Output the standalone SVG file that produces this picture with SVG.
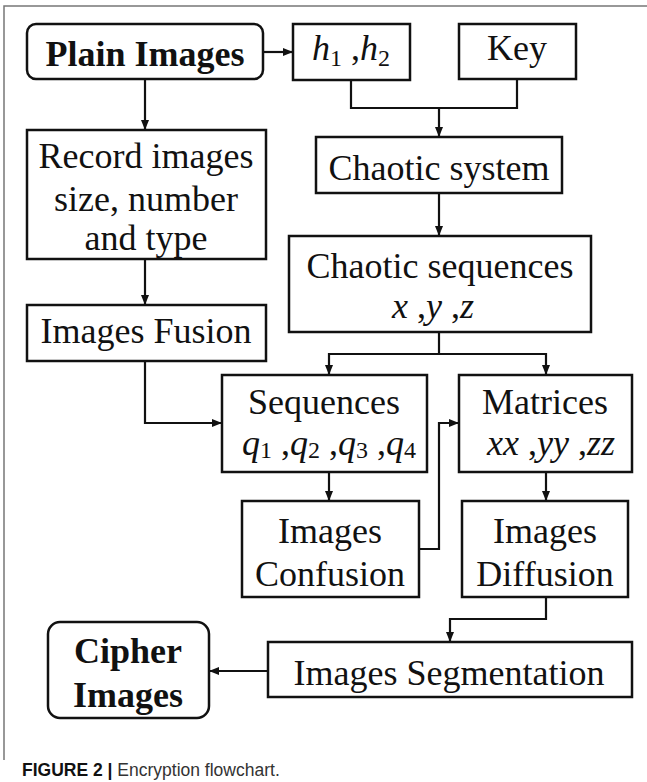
<svg xmlns="http://www.w3.org/2000/svg" width="647" height="782" viewBox="0 0 647 782">
<style>
.box{fill:#fff;stroke:#111;stroke-width:2.5}
.t{font-family:"Liberation Serif","Times New Roman",serif;font-size:36px;fill:#111;text-anchor:middle}
.b{font-weight:bold}
.i{font-style:italic}
.s{font-size:24px;font-style:normal}
.c{fill:none;stroke:#111;stroke-width:2.2}
.frame{fill:none;stroke:#777;stroke-width:1.5}
.cap{font-family:"Liberation Sans",Arial,sans-serif;font-size:17.5px}
</style>
<defs>
<marker id="ah" markerUnits="userSpaceOnUse" markerWidth="10" markerHeight="10" viewBox="0 0 10 10" refX="10" refY="5" orient="auto">
<path d="M0,1 L10,5 L0,9 Z" fill="#111"/>
</marker>
</defs>
<rect width="647" height="782" fill="#fff"/>
<path class="frame" d="M4,760 V6 H647"/>
<g id="connectors">
<path class="c" d="M263,52 H293" marker-end="url(#ah)"/>
<path class="c" d="M351,80 V108 H517 V79"/>
<path class="c" d="M439,108 V137" marker-end="url(#ah)"/>
<path class="c" d="M439,193 V236" marker-end="url(#ah)"/>
<path class="c" d="M439,332 V354"/>
<path class="c" d="M439,354 H329 V375" marker-end="url(#ah)"/>
<path class="c" d="M439,354 H546 V375" marker-end="url(#ah)"/>
<path class="c" d="M145,79 V130" marker-end="url(#ah)"/>
<path class="c" d="M145,259 V305" marker-end="url(#ah)"/>
<path class="c" d="M145,361 V423 H222" marker-end="url(#ah)"/>
<path class="c" d="M329,472 V501" marker-end="url(#ah)"/>
<path class="c" d="M419,549 H439 V423 H459" marker-end="url(#ah)"/>
<path class="c" d="M546,472 V501" marker-end="url(#ah)"/>
<path class="c" d="M546,597 V619 H450 V642" marker-end="url(#ah)"/>
<path class="c" d="M268,671 H209" marker-end="url(#ah)"/>
</g>
<g id="plain"><rect class="box" x="27" y="24" width="236" height="55" rx="9"/><text class="t b" x="145" y="66">Plain Images</text></g>
<g id="h12"><rect class="box" x="293" y="24" width="117" height="56"/><text class="t" x="351" y="60"><tspan class="i">h</tspan><tspan class="s" dy="6">1</tspan><tspan dy="-6"> ,</tspan><tspan class="i">h</tspan><tspan class="s" dy="6">2</tspan></text></g>
<g id="key"><rect class="box" x="459" y="24" width="117" height="55"/><text class="t" x="517" y="60">Key</text></g>
<g id="record"><rect class="box" x="27" y="130" width="239" height="129"/><text class="t" x="146" y="168">Record images</text><text class="t" x="146" y="211">size, number</text><text class="t" x="146" y="250">and type</text></g>
<g id="chsys"><rect class="box" x="316" y="137" width="246" height="56"/><text class="t" x="439" y="180">Chaotic system</text></g>
<g id="chseq"><rect class="box" x="289" y="236" width="302" height="96"/><text class="t" x="440" y="278">Chaotic sequences</text><text class="t" x="433" y="318"><tspan class="i">x</tspan> ,<tspan class="i">y</tspan> ,<tspan class="i">z</tspan></text></g>
<g id="fusion"><rect class="box" x="27" y="305" width="239" height="56"/><text class="t" x="146" y="343">Images Fusion</text></g>
<g id="sequences"><rect class="box" x="222" y="375" width="205" height="97"/><text class="t" x="324" y="414">Sequences</text><text class="t" x="329" y="455"><tspan class="i">q</tspan><tspan class="s" dy="3">1</tspan><tspan dy="-3"> ,</tspan><tspan class="i">q</tspan><tspan class="s" dy="3">2</tspan><tspan dy="-3"> ,</tspan><tspan class="i">q</tspan><tspan class="s" dy="3">3</tspan><tspan dy="-3"> ,</tspan><tspan class="i">q</tspan><tspan class="s" dy="3">4</tspan></text></g>
<g id="matrices"><rect class="box" x="459" y="375" width="173" height="97"/><text class="t" x="545" y="414">Matrices</text><text class="t" x="551" y="455"><tspan class="i">xx</tspan> ,<tspan class="i">yy</tspan> ,<tspan class="i">zz</tspan></text></g>
<g id="confusion"><rect class="box" x="242" y="501" width="177" height="96"/><text class="t" x="330" y="543">Images</text><text class="t" x="330" y="586">Confusion</text></g>
<g id="diffusion"><rect class="box" x="462" y="501" width="166" height="96"/><text class="t" x="545" y="543">Images</text><text class="t" x="545" y="586">Diffusion</text></g>
<g id="segmentation"><rect class="box" x="268" y="642" width="364" height="55"/><text class="t" x="449" y="685">Images Segmentation</text></g>
<g id="cipher"><rect class="box" x="48" y="622" width="161" height="96" rx="12"/><text class="t b" x="128" y="663">Cipher</text><text class="t b" x="128" y="707">Images</text></g>
<text class="cap" x="22" y="776"><tspan font-weight="bold" fill="#111">FIGURE 2 |</tspan><tspan fill="#333"> Encryption flowchart.</tspan></text>
</svg>
